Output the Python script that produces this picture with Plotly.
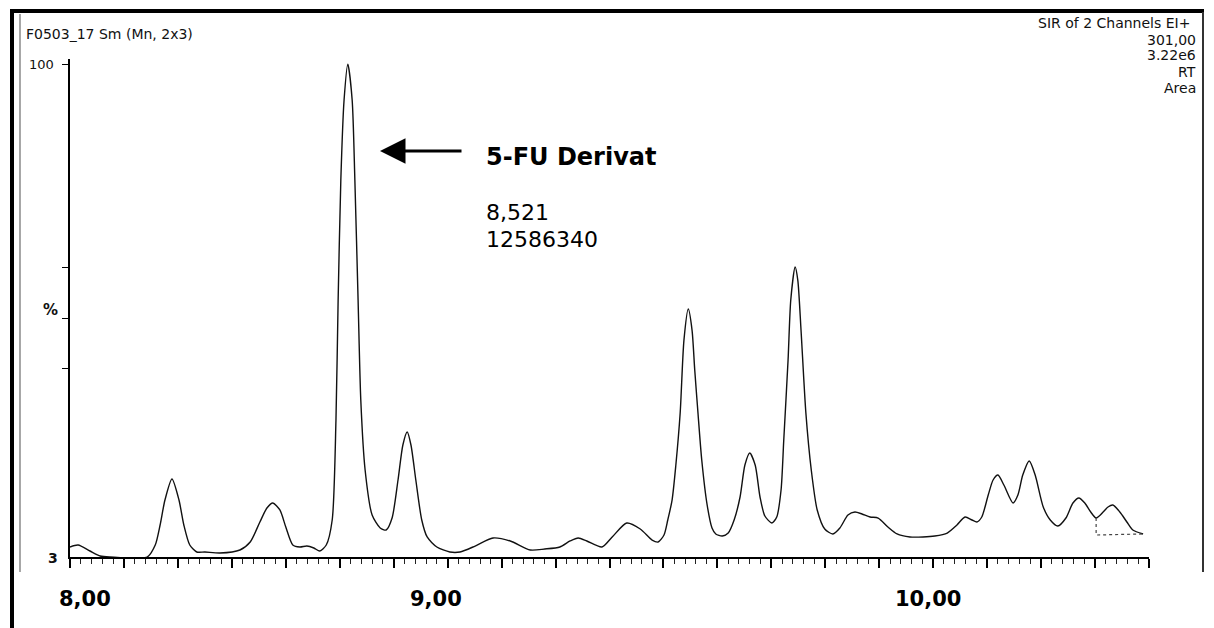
import plotly.graph_objects as go

# retention time (min) and relative intensity (%)
rt = [8.000, 8.015, 8.037, 8.056, 8.074, 8.143, 8.158, 8.167, 8.176, 8.189,
      8.202, 8.211, 8.222, 8.235, 8.250, 8.278, 8.315, 8.334, 8.352, 8.365,
      8.376, 8.389, 8.400, 8.413, 8.426, 8.439, 8.452, 8.463, 8.475, 8.486,
      8.493, 8.497, 8.502, 8.508, 8.515, 8.523, 8.528, 8.534, 8.539, 8.547,
      8.560, 8.575, 8.586, 8.597, 8.608, 8.617, 8.625, 8.632, 8.641, 8.652,
      8.662, 8.680, 8.704, 8.723, 8.751, 8.784, 8.816, 8.853, 8.880, 8.908,
      8.927, 8.942, 8.958, 8.986, 9.005, 9.032, 9.057, 9.079, 9.090, 9.101,
      9.108, 9.116, 9.123, 9.131, 9.138, 9.146, 9.153, 9.158, 9.164, 9.171,
      9.181, 9.190, 9.197, 9.209, 9.220, 9.231, 9.242, 9.251, 9.260, 9.270,
      9.279, 9.288, 9.301, 9.310, 9.318, 9.323, 9.331, 9.336, 9.344, 9.349,
      9.355, 9.364, 9.374, 9.385, 9.399, 9.414, 9.427, 9.442, 9.455, 9.468,
      9.483, 9.498, 9.516, 9.533, 9.557, 9.581, 9.603, 9.626, 9.644, 9.659,
      9.672, 9.681, 9.690, 9.702, 9.711, 9.720, 9.731, 9.748, 9.757, 9.766,
      9.778, 9.789, 9.804, 9.817, 9.831, 9.846, 9.859, 9.870, 9.881, 9.892,
      9.902, 9.915, 9.924, 9.933, 9.946, 9.959, 9.970, 9.989]
intensity = [4.97, 5.36, 4.18, 3.20, 3.00, 3.00, 5.36, 9.30, 14.21, 18.35,
             14.21, 9.30, 5.36, 3.98, 3.98, 3.79, 4.38, 5.95, 9.89, 12.64,
             13.62, 12.25, 8.90, 5.36, 4.97, 5.16, 4.77, 4.18, 5.36, 10.28,
             29.95, 53.57, 77.17, 92.92, 100.0, 92.92, 77.17, 53.57, 33.89, 20.12,
             11.26, 8.71, 8.31, 10.67, 18.15, 25.04, 27.59, 25.04, 18.15, 10.28,
             6.94, 4.97, 3.98, 3.98, 5.16, 6.74, 6.15, 4.38, 4.57, 4.97,
             6.15, 6.74, 6.15, 4.97, 6.94, 9.69, 8.51, 6.34, 5.95, 7.33,
             10.28, 14.21, 21.10, 31.33, 45.69, 51.79, 47.66, 39.79, 31.33, 22.08,
             13.23, 8.71, 7.53, 7.13, 7.72, 10.28, 14.81, 21.10, 23.46, 21.10,
             14.81, 11.07, 9.69, 10.87, 16.18, 26.02, 41.76, 53.57, 60.06, 57.50,
             47.66, 31.33, 20.12, 12.25, 8.51, 7.53, 8.71, 11.26, 11.85, 11.46,
             10.87, 10.67, 8.90, 7.53, 6.94, 6.94, 7.13, 7.72, 9.30, 10.87,
             10.28, 9.89, 10.87, 15.20, 18.15, 19.13, 17.17, 13.62, 15.20, 19.13,
             21.89, 19.13, 12.84, 10.28, 9.10, 10.67, 13.62, 14.61, 13.62, 11.85,
             10.67, 11.85, 12.84, 13.23, 11.85, 9.89, 8.31, 7.53]

# integration baseline of the last peak
base_rt = [9.902, 9.902, 9.989]
base_int = [10.67, 7.33, 7.53]

header_left = "F0503_17 Sm (Mn, 2x3)"
header_right = ["SIR of 2 Channels EI+", "301,00", "3.22e6", "RT", "Area"]
peak_name = "5-FU Derivat"
peak_rt = "8,521"
peak_area = "12586340"
x_labels = ["8,00", "9,00", "10,00"]

# the page body keeps its default 8px margin, so the figure is 8px smaller
OFF = 8
W, H = 1214 - OFF, 628 - OFF
L, R, T, B = 70 - OFF, 65, 59 - OFF, 71


def paper(x, y):
    # window pixel -> paper coords of the plot area
    x, y = x - OFF, y - OFF
    return (x - L) / (W - L - R), (H - B - y) / (H - T - B)


fig = go.Figure()
fig.add_trace(go.Scatter(x=rt, y=intensity, mode="lines",
                         line=dict(color="#111111", width=1.4, shape="spline", smoothing=0.7),
                         hoverinfo="skip"))
fig.add_trace(go.Scatter(x=base_rt, y=base_int, mode="lines",
                         line=dict(color="#444444", width=1.2, dash="dot"),
                         hoverinfo="skip"))

ann = []
small = dict(family="DejaVu Sans", size=14, color="#111111")
x0, y0 = paper(24, 34)
ann.append(dict(x=x0, y=y0, text=header_left, xanchor="left", yanchor="middle", font=small))
for i, (txt, yy) in enumerate(zip(header_right, [23, 40, 55, 72, 88])):
    xx, yp = paper(1192 if i == 0 else 1198, yy)
    ann.append(dict(x=xx, y=yp, text=txt, xanchor="right", yanchor="middle", font=small))

xx, yp = paper(56, 64)
ann.append(dict(x=xx, y=yp, text="100", xanchor="right", yanchor="middle",
                font=dict(family="DejaVu Sans", size=13, color="#111111")))
xx, yp = paper(50, 310)
ann.append(dict(x=xx, y=yp, text="<b>%</b>", xanchor="center", yanchor="middle",
                font=dict(family="DejaVu Sans", size=15, color="#111111")))
xx, yp = paper(53, 558)
ann.append(dict(x=xx, y=yp, text="<b>3</b>", xanchor="center", yanchor="middle",
                font=dict(family="DejaVu Sans", size=14, color="#111111")))

big = dict(family="DejaVu Sans", size=22, color="#000000")
xx, yp = paper(484, 157)
ann.append(dict(x=xx, y=yp, text="<b>" + peak_name + "</b>", xanchor="left", yanchor="middle",
                font=dict(family="DejaVu Sans", size=24, color="#000000")))
xx, yp = paper(484, 213)
ann.append(dict(x=xx, y=yp, text=peak_rt, xanchor="left", yanchor="middle", font=big))
xx, yp = paper(484, 240)
ann.append(dict(x=xx, y=yp, text=peak_area, xanchor="left", yanchor="middle", font=big))

# arrow pointing at the main peak
xx, yp = paper(380, 151)
ann.append(dict(x=xx, y=yp, text="", showarrow=True, ax=83, ay=0, arrowhead=2,
                arrowsize=1.7, arrowwidth=3, arrowcolor="#000000"))

for txt, cx in zip(x_labels, [85, 436, 928]):
    xx, yp = paper(cx, 599)
    ann.append(dict(x=xx, y=yp, text="<b>" + txt + "</b>", xanchor="center", yanchor="middle",
                    font=dict(family="DejaVu Sans", size=21, color="#000000")))

for a in ann:
    a.setdefault("showarrow", False)
    a["xref"] = "paper"
    a["yref"] = "paper"

# scanned page frame
shapes = []
def seg(xa, ya, xb, yb, color, width):
    p1 = paper(xa, ya)
    p2 = paper(xb, yb)
    shapes.append(dict(type="line", xref="paper", yref="paper", x0=p1[0], y0=p1[1],
                       x1=p2[0], y1=p2[1], line=dict(color=color, width=width)))

seg(10, 11, 1204, 11, "#000000", 4)
seg(12, 9, 12, 628, "#000000", 4)
seg(20, 14, 20, 572, "#8a8a8a", 1.5)
seg(1203, 12, 1203, 572, "#333333", 2)

fig.update_layout(
    width=W, height=H,
    margin=dict(l=L, r=R, t=T, b=B),
    paper_bgcolor="white", plot_bgcolor="white",
    showlegend=False,
    annotations=ann, shapes=shapes,
    xaxis=dict(range=[8.0, 10.0], showgrid=False, zeroline=False, showline=True,
               linecolor="#000000", linewidth=1.5, ticks="outside", tick0=8.0, dtick=0.1,
               ticklen=9, tickwidth=1.5, tickcolor="#000000", showticklabels=False,
               minor=dict(dtick=0.02, ticks="outside", ticklen=5, tickwidth=1.2, tickcolor="#222222")),
    yaxis=dict(range=[3, 101], showgrid=False, zeroline=False, showline=True,
               linecolor="#000000", linewidth=1.5, ticks="outside", tickvals=[40, 50, 60, 100],
               ticklen=6, tickwidth=1.2, tickcolor="#000000", showticklabels=False),
)

fig.write_html("out.html")
